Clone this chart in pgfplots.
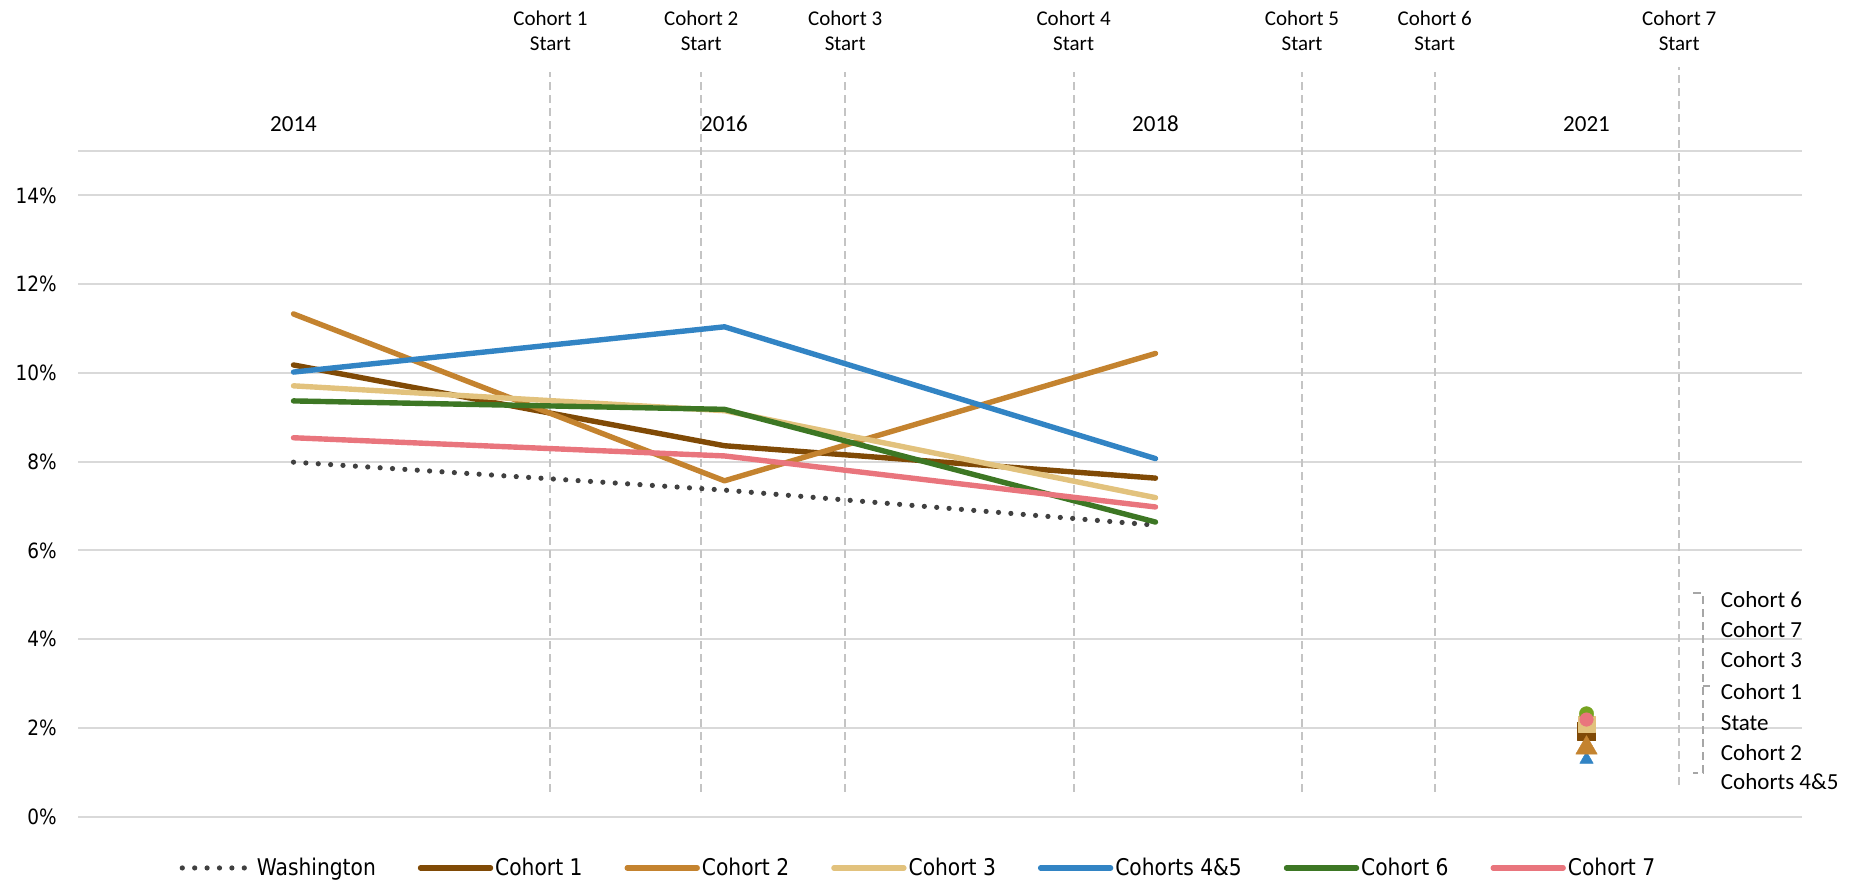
\documentclass[border=0pt]{standalone}
\usepackage{pgfplots}
\pgfplotsset{compat=1.18}
\usepackage{fontspec}
\setmainfont{Carlito}
\newfontfamily\tah[FakeStretch=0.88]{DejaVu Sans}
\definecolor{wa}{HTML}{404040}
\definecolor{cA}{HTML}{804A06}
\definecolor{cB}{HTML}{C4832F}
\definecolor{cC}{HTML}{E2C27D}
\definecolor{cD}{HTML}{3284C4}
\definecolor{cE}{HTML}{3D7724}
\definecolor{cF}{HTML}{E9757D}
\definecolor{cG}{HTML}{76A320}
\definecolor{gridgray}{HTML}{D9D9D9}
\definecolor{vgray}{HTML}{C4C4C4}
\definecolor{bgray}{HTML}{A6A6A6}
\tikzset{toplab/.style={font=\fontsize{10.5bp}{12bp}\selectfont, inner sep=0pt},
  rightlab/.style={font=\fontsize{11.5bp}{13bp}\selectfont, inner sep=0pt, anchor=west}}
\begin{document}
\begin{tikzpicture}
\useasboundingbox (-39bp,-32.65bp) rectangle (887bp,408.35bp);
\begin{axis}[
  at={(0,0)}, anchor=south west,
  width=862bp, height=332.8bp, scale only axis,
  xmin=-0.5, xmax=3.5, ymin=0, ymax=15,
  clip=false,
  axis line style={draw=none},
  major tick length=0,
  ytick={0,2,4,6,8,10,12,14},
  yticklabels={0\%,2\%,4\%,6\%,8\%,10\%,12\%,14\%},
  yticklabel style={font=\tah\fontsize{10.5bp}{12bp}\selectfont, anchor=east, inner sep=0pt, xshift=-10.5bp},
  ymajorgrids, grid style={color=gridgray, line width=1bp},
  xtick={0,1,2,3},
  xticklabels={2014,2016,2018,2021},
  xticklabel pos=upper,
  xticklabel style={font=\fontsize{11.5bp}{13bp}\selectfont, anchor=center, inner sep=0pt, yshift=13.5bp},
  legend columns=-1,
  legend style={draw=none, fill=none, at={(0.4875,-0.077)}, anchor=center,
    font=\tah\fontsize{11.5bp}{13bp}\selectfont,
    nodes={inner xsep=1bp, inner ysep=2bp},
    /tikz/every even column/.append style={column sep=20bp}},
  legend image code/.code={\draw[#1] (0bp,0bp) -- (35bp,0bp);},
  every axis plot/.append style={line width=2.7bp, line cap=round, line join=round},
]
% top axis line
\addplot[gridgray, line width=1bp, line cap=butt, forget plot] coordinates {(-0.5,15) (3.5,15)};
% cohort start lines
\addplot[vgray, line width=1bp, line cap=butt, dash pattern=on 4bp off 2.5bp, forget plot] coordinates {(0.596,0.56) (0.596,16.78)};
\addplot[vgray, line width=1bp, line cap=butt, dash pattern=on 4bp off 2.5bp, forget plot] coordinates {(0.946,0.56) (0.946,16.78)};
\addplot[vgray, line width=1bp, line cap=butt, dash pattern=on 4bp off 2.5bp, forget plot] coordinates {(1.280,0.56) (1.280,16.78)};
\addplot[vgray, line width=1bp, line cap=butt, dash pattern=on 4bp off 2.5bp, forget plot] coordinates {(1.810,0.56) (1.810,16.78)};
\addplot[vgray, line width=1bp, line cap=butt, dash pattern=on 4bp off 2.5bp, forget plot] coordinates {(2.340,0.56) (2.340,16.78)};
\addplot[vgray, line width=1bp, line cap=butt, dash pattern=on 4bp off 2.5bp, forget plot] coordinates {(2.648,0.56) (2.648,16.78)};
\addplot[vgray, line width=1bp, line cap=butt, dash pattern=on 4bp off 2.5bp, forget plot] coordinates {(3.215,0.71) (3.215,16.9)};
% series
\addplot[wa, line width=2.6bp, dash pattern=on 0bp off 6.2bp] coordinates {(0,7.99) (1,7.36) (2,6.57)};
\addlegendentry{Washington}
\addplot[cA] coordinates {(0,10.18) (1,8.36) (2,7.63)};
\addlegendentry{Cohort 1}
\addplot[cB] coordinates {(0,11.33) (1,7.57) (2,10.44)};
\addlegendentry{Cohort 2}
\addplot[cC] coordinates {(0,9.71) (1,9.15) (2,7.19)};
\addlegendentry{Cohort 3}
\addplot[cD] coordinates {(0,10.02) (1,11.04) (2,8.07)};
\addlegendentry{Cohorts 4\&5}
\addplot[cE] coordinates {(0,9.37) (1,9.18) (2,6.64)};
\addlegendentry{Cohort 6}
\addplot[cF] coordinates {(0,8.54) (1,8.13) (2,6.98)};
\addlegendentry{Cohort 7}
% 2021 markers
\addplot[wa, forget plot, only marks, mark=*, mark size=3bp, mark options={solid, line width=0.2bp}] coordinates {(3,1.95)};
\addplot[cD, forget plot, only marks, mark=triangle*, mark size=3.9bp, mark options={solid, line width=0.2bp}] coordinates {(3,1.29)};
\addplot[cA, forget plot, only marks, mark=square*, mark size=4.5bp, mark options={solid, line width=0.2bp}] coordinates {(3,1.92)};
\addplot[cB, forget plot, only marks, mark=triangle*, mark size=6.2bp, mark options={solid, line width=0.2bp}] coordinates {(3,1.55)};
\addplot[cC, forget plot, only marks, mark=square*, mark size=4.1bp, mark options={solid, line width=0.2bp}] coordinates {(3,2.09)};
\addplot[cG, forget plot, only marks, mark=*, mark size=3.6bp, mark options={solid, line width=0.2bp}] coordinates {(3,2.32)};
\addplot[cF, forget plot, only marks, mark=*, mark size=3.4bp, mark options={solid, line width=0.2bp}] coordinates {(3,2.19)};
% top labels
\node[toplab] at (axis cs:0.596,18.0) {Cohort 1};
\node[toplab] at (axis cs:0.596,17.41) {Start};
\node[toplab] at (axis cs:0.946,18.0) {Cohort 2};
\node[toplab] at (axis cs:0.946,17.41) {Start};
\node[toplab] at (axis cs:1.280,18.0) {Cohort 3};
\node[toplab] at (axis cs:1.280,17.41) {Start};
\node[toplab] at (axis cs:1.810,18.0) {Cohort 4};
\node[toplab] at (axis cs:1.810,17.41) {Start};
\node[toplab] at (axis cs:2.340,18.0) {Cohort 5};
\node[toplab] at (axis cs:2.340,17.41) {Start};
\node[toplab] at (axis cs:2.648,18.0) {Cohort 6};
\node[toplab] at (axis cs:2.648,17.41) {Start};
\node[toplab] at (axis cs:3.215,18.0) {Cohort 7};
\node[toplab] at (axis cs:3.215,17.41) {Start};
% bracket
\draw[bgray, line width=1bp, dash pattern=on 4bp off 2.5bp] (axis cs:3.248,5.04) -- (axis cs:3.271,5.04) -- (axis cs:3.271,0.985) -- (axis cs:3.248,0.985);
\draw[bgray, line width=1bp] (axis cs:3.271,2.95) -- (axis cs:3.287,2.95);
% right labels
\node[rightlab] at (axis cs:3.311,4.90) {Cohort 6};
\node[rightlab] at (axis cs:3.311,4.22) {Cohort 7};
\node[rightlab] at (axis cs:3.311,3.55) {Cohort 3};
\node[rightlab] at (axis cs:3.311,2.82) {Cohort 1};
\node[rightlab] at (axis cs:3.311,2.10) {State};
\node[rightlab] at (axis cs:3.311,1.44) {Cohort 2};
\node[rightlab] at (axis cs:3.311,0.79) {Cohorts 4\&5};
\end{axis}
\end{tikzpicture}
\end{document}
